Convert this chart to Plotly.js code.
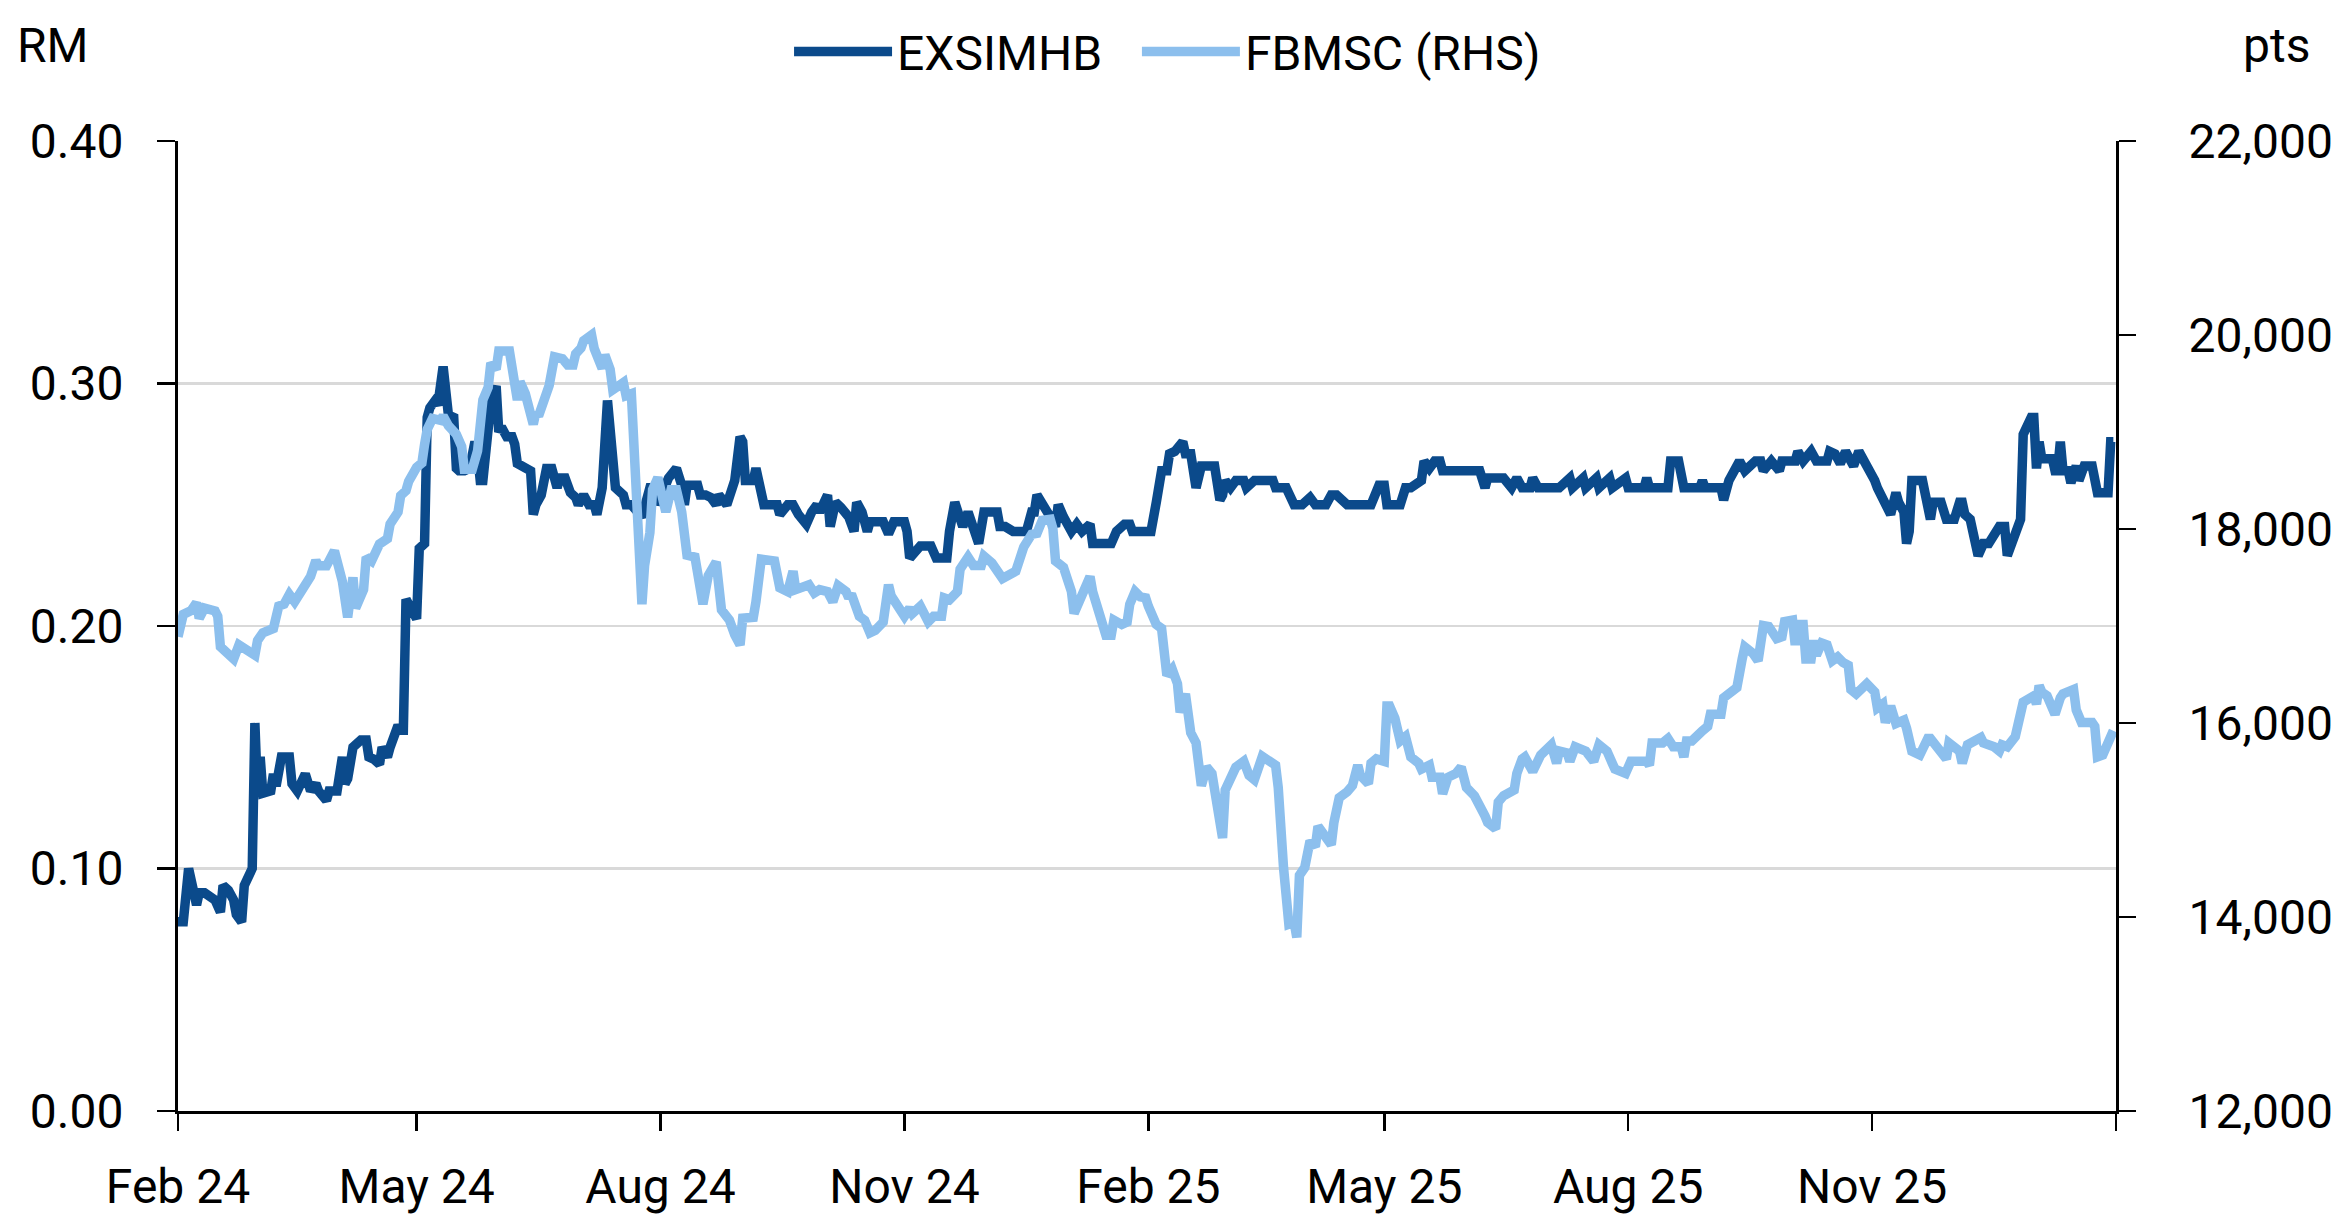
<!DOCTYPE html>
<html>
<head>
<meta charset="utf-8">
<script src="https://cdn.plot.ly/plotly-3.0.1.min.js"></script>
<style>
  html, body { margin: 0; padding: 0; background: #ffffff; }
  #chart { width: 2350px; height: 1218px; }
</style>
</head>
<body>
<div id="chart"></div>
<script>
// ---------------- DATA ----------------
const seriesNames = ["EXSIMHB", "FBMSC (RHS)"];
const leftAxisTitle = "RM";
const rightAxisTitle = "pts";

const tickDates = ["2024-02-01","2024-05-01","2024-08-01","2024-11-01","2025-02-01","2025-05-01","2025-08-01","2025-11-01","2026-02-01"];
const tickLabels = ["Feb 24","May 24","Aug 24","Nov 24","Feb 25","May 25","Aug 25","Nov 25",""];

// EXSIMHB share price (RM), left axis
const exsimhbDates = [
"2024-02-01","2024-02-03","2024-02-05","2024-02-07","2024-02-08","2024-02-09","2024-02-11","2024-02-15","2024-02-17","2024-02-18",
"2024-02-20","2024-02-22","2024-02-23","2024-02-25","2024-02-26","2024-02-29","2024-03-01","2024-03-02","2024-03-03","2024-03-04",
"2024-03-07","2024-03-08","2024-03-09","2024-03-11","2024-03-14","2024-03-15","2024-03-17","2024-03-20","2024-03-22","2024-03-24",
"2024-03-25","2024-03-28","2024-03-29","2024-04-01","2024-04-03","2024-04-04","2024-04-05","2024-04-07","2024-04-10","2024-04-12",
"2024-04-13","2024-04-15","2024-04-17","2024-04-18","2024-04-20","2024-04-21","2024-04-24","2024-04-25","2024-04-26","2024-04-27",
"2024-04-29","2024-05-01","2024-05-02","2024-05-04","2024-05-05","2024-05-06","2024-05-08","2024-05-09","2024-05-11","2024-05-13",
"2024-05-15","2024-05-16","2024-05-17","2024-05-19","2024-05-21","2024-05-23","2024-05-24","2024-05-25","2024-05-26","2024-05-27",
"2024-05-29","2024-05-31","2024-06-01","2024-06-02","2024-06-04","2024-06-06","2024-06-07","2024-06-08","2024-06-10","2024-06-13",
"2024-06-14","2024-06-15","2024-06-17","2024-06-19","2024-06-21","2024-06-23","2024-06-24","2024-06-26","2024-06-28","2024-06-30",
"2024-07-01","2024-07-03","2024-07-05","2024-07-07","2024-07-08","2024-07-10","2024-07-12","2024-07-13","2024-07-14","2024-07-15",
"2024-07-18","2024-07-19","2024-07-21","2024-07-25","2024-07-28","2024-07-30","2024-07-31","2024-08-03","2024-08-04","2024-08-07",
"2024-08-09","2024-08-10","2024-08-11","2024-08-15","2024-08-16","2024-08-18","2024-08-20","2024-08-22","2024-08-23","2024-08-26",
"2024-08-29","2024-08-31","2024-09-01","2024-09-02","2024-09-05","2024-09-06","2024-09-07","2024-09-09","2024-09-14","2024-09-15",
"2024-09-18","2024-09-20","2024-09-22","2024-09-23","2024-09-25","2024-09-27","2024-09-29","2024-09-30","2024-10-03","2024-10-04",
"2024-10-06","2024-10-08","2024-10-11","2024-10-13","2024-10-14","2024-10-16","2024-10-18","2024-10-19","2024-10-24","2024-10-26",
"2024-10-28","2024-11-01","2024-11-02","2024-11-03","2024-11-07","2024-11-11","2024-11-13","2024-11-17","2024-11-18","2024-11-20",
"2024-11-23","2024-11-25","2024-11-27","2024-11-29","2024-12-01","2024-12-06","2024-12-07","2024-12-09","2024-12-12","2024-12-17",
"2024-12-19","2024-12-20","2024-12-21","2024-12-23","2024-12-26","2024-12-28","2024-12-29","2024-12-31","2025-01-03","2025-01-05",
"2025-01-07","2025-01-10","2025-01-11","2025-01-18","2025-01-20","2025-01-23","2025-01-25","2025-01-26","2025-02-02","2025-02-04",
"2025-02-06","2025-02-08","2025-02-09","2025-02-11","2025-02-13","2025-02-14","2025-02-15","2025-02-17","2025-02-19","2025-02-21",
"2025-02-26","2025-02-28","2025-03-01","2025-03-02","2025-03-04","2025-03-06","2025-03-09","2025-03-10","2025-03-13","2025-03-20",
"2025-03-21","2025-03-25","2025-03-28","2025-03-31","2025-04-03","2025-04-05","2025-04-09","2025-04-11","2025-04-13","2025-04-17",
"2025-04-26","2025-04-29","2025-05-01","2025-05-02","2025-05-07","2025-05-09","2025-05-11","2025-05-15","2025-05-16","2025-05-18",
"2025-05-20","2025-05-22","2025-05-23","2025-06-05","2025-06-06","2025-06-08","2025-06-09","2025-06-15","2025-06-18","2025-06-20",
"2025-06-22","2025-06-25","2025-06-26","2025-06-28","2025-07-06","2025-07-10","2025-07-11","2025-07-15","2025-07-16","2025-07-20",
"2025-07-21","2025-07-25","2025-07-26","2025-07-31","2025-08-01","2025-08-07","2025-08-08","2025-08-09","2025-08-16","2025-08-17",
"2025-08-20","2025-08-22","2025-08-28","2025-08-29","2025-08-30","2025-09-05","2025-09-06","2025-09-08","2025-09-10","2025-09-12",
"2025-09-14","2025-09-16","2025-09-18","2025-09-20","2025-09-21","2025-09-24","2025-09-27","2025-09-28","2025-10-03","2025-10-04",
"2025-10-06","2025-10-09","2025-10-11","2025-10-15","2025-10-16","2025-10-18","2025-10-20","2025-10-22","2025-10-25","2025-10-27",
"2025-10-28","2025-10-30","2025-10-31","2025-11-02","2025-11-03","2025-11-04","2025-11-06","2025-11-08","2025-11-10","2025-11-11",
"2025-11-13","2025-11-14","2025-11-15","2025-11-16","2025-11-20","2025-11-22","2025-11-23","2025-11-24","2025-11-27","2025-11-29",
"2025-12-02","2025-12-04","2025-12-05","2025-12-06","2025-12-08","2025-12-09","2025-12-11","2025-12-13","2025-12-15","2025-12-19",
"2025-12-21","2025-12-22","2025-12-25","2025-12-27","2025-12-28","2025-12-29","2025-12-31","2026-01-01","2026-01-02","2026-01-03",
"2026-01-04","2026-01-08","2026-01-09","2026-01-10","2026-01-11","2026-01-12","2026-01-14","2026-01-15","2026-01-17","2026-01-18",
"2026-01-20","2026-01-23","2026-01-25","2026-01-29","2026-01-30","2026-01-31"
];
const exsimhbValues = [
0.078,0.078,0.100,0.087,0.085,0.090,0.090,0.087,0.082,0.093,
0.091,0.087,0.081,0.078,0.093,0.100,0.160,0.131,0.146,0.131,
0.132,0.139,0.134,0.146,0.146,0.135,0.132,0.139,0.132,0.135,
0.132,0.128,0.132,0.132,0.146,0.135,0.137,0.150,0.153,0.153,
0.146,0.145,0.143,0.150,0.146,0.150,0.159,0.157,0.157,0.211,
0.207,0.203,0.232,0.234,0.286,0.290,0.293,0.291,0.307,0.287,
0.286,0.265,0.264,0.264,0.265,0.276,0.271,0.260,0.260,0.271,
0.292,0.299,0.280,0.282,0.278,0.278,0.275,0.267,0.266,0.264,
0.246,0.250,0.254,0.265,0.265,0.257,0.261,0.261,0.255,0.253,
0.250,0.254,0.250,0.250,0.246,0.257,0.293,0.276,0.272,0.257,
0.254,0.250,0.250,0.245,0.257,0.257,0.250,0.259,0.261,0.265,
0.258,0.250,0.258,0.258,0.254,0.254,0.253,0.250,0.254,0.250,
0.260,0.278,0.276,0.260,0.260,0.265,0.258,0.250,0.250,0.246,
0.250,0.250,0.246,0.245,0.242,0.247,0.250,0.247,0.254,0.241,
0.251,0.249,0.245,0.239,0.251,0.247,0.239,0.243,0.243,0.238,
0.243,0.243,0.239,0.228,0.233,0.233,0.228,0.228,0.239,0.251,
0.241,0.247,0.239,0.234,0.247,0.247,0.241,0.241,0.239,0.239,
0.247,0.247,0.254,0.251,0.245,0.241,0.250,0.245,0.239,0.242,
0.239,0.242,0.234,0.234,0.239,0.242,0.242,0.239,0.239,0.251,
0.264,0.264,0.271,0.272,0.276,0.276,0.271,0.271,0.257,0.266,
0.266,0.252,0.254,0.260,0.257,0.260,0.260,0.257,0.260,0.260,
0.257,0.257,0.250,0.250,0.253,0.250,0.250,0.254,0.254,0.250,
0.250,0.258,0.258,0.250,0.250,0.257,0.257,0.260,0.268,0.265,
0.268,0.268,0.264,0.264,0.264,0.257,0.261,0.261,0.257,0.261,
0.257,0.257,0.261,0.257,0.257,0.261,0.257,0.261,0.257,0.261,
0.257,0.261,0.257,0.261,0.257,0.257,0.261,0.257,0.257,0.268,
0.268,0.257,0.257,0.260,0.257,0.257,0.252,0.260,0.264,0.268,
0.264,0.266,0.268,0.268,0.264,0.268,0.264,0.268,0.268,0.272,
0.268,0.272,0.268,0.268,0.272,0.271,0.267,0.272,0.266,0.272,
0.270,0.266,0.266,0.260,0.257,0.255,0.250,0.246,0.255,0.251,
0.247,0.234,0.239,0.260,0.260,0.251,0.244,0.251,0.251,0.244,
0.244,0.251,0.251,0.246,0.244,0.239,0.229,0.234,0.234,0.241,
0.241,0.229,0.239,0.244,0.279,0.282,0.286,0.286,0.265,0.276,
0.269,0.269,0.264,0.264,0.276,0.264,0.264,0.259,0.266,0.260,
0.266,0.266,0.255,0.255,0.276,0.276
];

// FBMSC index level (pts), right axis
const fbmscDates = [
"2024-02-01","2024-02-03","2024-02-06","2024-02-08","2024-02-09","2024-02-11","2024-02-15","2024-02-16","2024-02-17","2024-02-20",
"2024-02-22","2024-02-24","2024-02-27","2024-03-01","2024-03-02","2024-03-04","2024-03-08","2024-03-10","2024-03-12","2024-03-14",
"2024-03-16","2024-03-21","2024-03-22","2024-03-24","2024-03-25","2024-03-28","2024-03-29","2024-03-31","2024-04-03","2024-04-05",
"2024-04-07","2024-04-08","2024-04-11","2024-04-12","2024-04-14","2024-04-17","2024-04-20","2024-04-21","2024-04-24","2024-04-25",
"2024-04-27","2024-04-28","2024-05-01","2024-05-03","2024-05-04","2024-05-05","2024-05-07","2024-05-10","2024-05-11","2024-05-13",
"2024-05-16","2024-05-18","2024-05-19","2024-05-22","2024-05-24","2024-05-25","2024-05-26","2024-05-28","2024-05-29","2024-05-31",
"2024-06-01","2024-06-05","2024-06-07","2024-06-08","2024-06-09","2024-06-11","2024-06-14","2024-06-15","2024-06-16","2024-06-18",
"2024-06-20","2024-06-22","2024-06-25","2024-06-27","2024-06-29","2024-06-30","2024-07-02","2024-07-03","2024-07-05","2024-07-06",
"2024-07-07","2024-07-10","2024-07-11","2024-07-13","2024-07-14","2024-07-16","2024-07-18","2024-07-19","2024-07-21","2024-07-25",
"2024-07-26","2024-07-28","2024-07-29","2024-07-31","2024-08-03","2024-08-05","2024-08-07","2024-08-09","2024-08-11","2024-08-14",
"2024-08-15","2024-08-17","2024-08-19","2024-08-22","2024-08-24","2024-08-27","2024-08-29","2024-08-31","2024-09-01","2024-09-05",
"2024-09-06","2024-09-08","2024-09-13","2024-09-14","2024-09-15","2024-09-18","2024-09-20","2024-09-21","2024-09-26","2024-09-28",
"2024-09-30","2024-10-03","2024-10-05","2024-10-07","2024-10-10","2024-10-11","2024-10-12","2024-10-15","2024-10-17","2024-10-19",
"2024-10-21","2024-10-24","2024-10-26","2024-10-27","2024-10-29","2024-10-30","2024-11-01","2024-11-03","2024-11-04","2024-11-07",
"2024-11-10","2024-11-12","2024-11-15","2024-11-16","2024-11-18","2024-11-21","2024-11-22","2024-11-25","2024-11-27","2024-11-30",
"2024-12-01","2024-12-04","2024-12-06","2024-12-08","2024-12-13","2024-12-16","2024-12-19","2024-12-21","2024-12-23","2024-12-26",
"2024-12-27","2024-12-28","2024-12-31","2025-01-02","2025-01-03","2025-01-04","2025-01-06","2025-01-08","2025-01-10","2025-01-11",
"2025-01-14","2025-01-16","2025-01-18","2025-01-19","2025-01-22","2025-01-24","2025-01-25","2025-01-27","2025-01-29","2025-01-31",
"2025-02-01","2025-02-03","2025-02-04","2025-02-06","2025-02-08","2025-02-10","2025-02-12","2025-02-13","2025-02-15","2025-02-17",
"2025-02-19","2025-02-21","2025-02-23","2025-02-25","2025-02-27","2025-03-01","2025-03-02","2025-03-06","2025-03-09","2025-03-11",
"2025-03-13","2025-03-16","2025-03-21","2025-03-22","2025-03-24","2025-03-26","2025-03-28","2025-03-29","2025-03-30","2025-04-01",
"2025-04-03","2025-04-05","2025-04-06","2025-04-09","2025-04-11","2025-04-12","2025-04-14","2025-04-17","2025-04-19","2025-04-21",
"2025-04-22","2025-04-25","2025-04-26","2025-04-28","2025-05-01","2025-05-02","2025-05-03","2025-05-05","2025-05-07","2025-05-09",
"2025-05-11","2025-05-14","2025-05-15","2025-05-18","2025-05-19","2025-05-22","2025-05-23","2025-05-25","2025-05-28","2025-05-30",
"2025-06-01","2025-06-04","2025-06-06","2025-06-08","2025-06-09","2025-06-12","2025-06-13","2025-06-15","2025-06-19","2025-06-20",
"2025-06-22","2025-06-23","2025-06-26","2025-06-29","2025-07-03","2025-07-05","2025-07-06","2025-07-09","2025-07-10","2025-07-12",
"2025-07-16","2025-07-19","2025-07-21","2025-07-24","2025-07-26","2025-07-27","2025-07-31","2025-08-02","2025-08-08","2025-08-09",
"2025-08-10","2025-08-14","2025-08-16","2025-08-18","2025-08-21","2025-08-22","2025-08-23","2025-08-25","2025-08-29","2025-08-31",
"2025-09-01","2025-09-05","2025-09-06","2025-09-08","2025-09-11","2025-09-13","2025-09-14","2025-09-17","2025-09-19","2025-09-20",
"2025-09-21","2025-09-23","2025-09-26","2025-09-28","2025-09-29","2025-10-02","2025-10-03","2025-10-04","2025-10-06","2025-10-07",
"2025-10-09","2025-10-10","2025-10-11","2025-10-13","2025-10-15","2025-10-17","2025-10-19","2025-10-21","2025-10-23","2025-10-24",
"2025-10-26","2025-10-30","2025-10-31","2025-11-02","2025-11-03","2025-11-05","2025-11-06","2025-11-08","2025-11-10","2025-11-13",
"2025-11-14","2025-11-16","2025-11-19","2025-11-22","2025-11-23","2025-11-26","2025-11-29","2025-11-30","2025-12-04","2025-12-05",
"2025-12-07","2025-12-12","2025-12-13","2025-12-17","2025-12-19","2025-12-20","2025-12-22","2025-12-25","2025-12-26","2025-12-28",
"2026-01-01","2026-01-02","2026-01-03","2026-01-04","2026-01-06","2026-01-07","2026-01-09","2026-01-11","2026-01-12","2026-01-16",
"2026-01-17","2026-01-19","2026-01-23","2026-01-24","2026-01-25","2026-01-27","2026-01-31"
];
const fbmscValues = [
16890,17120,17160,17240,17080,17185,17155,17100,16785,16720,
16660,16805,16750,16700,16850,16930,16975,17205,17225,17325,
17250,17460,17510,17675,17620,17620,17660,17775,17460,17090,
17500,17185,17375,17710,17670,17845,17900,18050,18175,18345,
18395,18490,18635,18680,18870,19025,19140,19120,19165,19065,
18975,18850,18615,18615,18805,19120,19330,19460,19710,19645,
19835,19835,19480,19330,19520,19395,19080,19205,19165,19330,
19480,19775,19755,19690,19690,19805,19865,19940,20000,20000,
19860,19655,19795,19645,19435,19460,19510,19375,19395,17225,
17625,17965,18405,18530,18175,18405,18405,18175,17730,17710,
17520,17225,17520,17660,17165,17060,16910,16805,17080,17090,
17250,17690,17670,17520,17395,17355,17565,17375,17425,17340,
17375,17355,17250,17415,17355,17290,17330,17100,17060,16930,
16955,17040,17425,17310,17225,17185,17100,17185,17130,17205,
17045,17100,17100,17290,17270,17355,17585,17710,17625,17625,
17720,17650,17565,17490,17565,17815,17945,17955,18090,18100,
18005,17670,17605,17440,17355,17130,17250,17375,17510,17355,
17040,16905,16905,17060,17015,17040,17225,17355,17300,17290,
17205,17080,17015,16975,16490,16555,16405,16110,16300,15900,
15795,15355,15545,15480,15205,14815,15310,15545,15605,15460,
15415,15655,15565,15335,14510,13925,13945,13790,14430,14510,
14785,14725,14935,14815,14745,14975,15230,15290,15355,15565,
15460,15375,15585,15630,15605,16175,16175,16050,15815,15860,
15650,15585,15525,15565,15440,15440,15270,15440,15480,15545,
15335,15250,15165,15040,14975,14910,15185,15250,15310,15480,
15630,15650,15500,15670,15775,15585,15710,15690,15605,15755,
15710,15605,15775,15710,15585,15525,15480,15605,15605,15565,
15795,15795,15840,15755,15755,15650,15815,15815,15920,15965,
16090,16090,16260,16300,16365,16660,16785,16720,16640,16825,
17005,16995,16870,16890,17045,17060,16805,17015,17015,16660,
16660,16850,16700,16825,16805,16640,16680,16625,16595,16345,
16300,16405,16365,16320,16155,16195,16005,16175,15995,16030,
15945,15710,15670,15840,15840,15735,15630,15795,15710,15585,
15775,15850,15795,15755,15710,15775,15755,15860,16005,16215,
16280,16195,16385,16320,16280,16215,16090,16260,16300,16345,
16135,16005,16005,15965,15650,15670,15920
];

// ---------------- STYLE ----------------
const FONT = "Roboto, 'Liberation Sans', Arial, sans-serif";
const FS = 48;
const darkBlue = "#0b4a8b";
const lightBlue = "#8cbfed";

const traces = [
  {
    x: exsimhbDates, y: exsimhbValues, name: seriesNames[0],
    type: "scatter", mode: "lines", yaxis: "y", legend: "legend",
    line: { color: darkBlue, width: 9.5, shape: "linear" }
  },
  {
    x: fbmscDates, y: fbmscValues, name: seriesNames[1],
    type: "scatter", mode: "lines", yaxis: "y2", legend: "legend2",
    line: { color: lightBlue, width: 9.5, shape: "linear" }
  }
];

const legendBase = {
  orientation: "h", xanchor: "left", y: 1.092, yanchor: "middle",
  font: { family: FONT, size: FS, color: "#000000" },
  bgcolor: "rgba(0,0,0,0)", itemwidth: 98
};

const layout = {
  width: 2350, height: 1218,
  paper_bgcolor: "#ffffff", plot_bgcolor: "#ffffff",
  margin: { l: 178, r: 234, t: 141, b: 107, pad: 0 },
  font: { family: FONT, size: FS, color: "#000000" },
  showlegend: true,
  legend: Object.assign({}, legendBase, { x: 0.3153 }),
  legend2: Object.assign({}, legendBase, { x: 0.4948 }),
  xaxis: {
    type: "date", range: ["2024-02-01", "2026-02-01"],
    tickmode: "array", tickvals: tickDates, ticktext: tickLabels,
    ticks: "outside", ticklen: 17, tickwidth: 2.5, tickcolor: "#000000",
    showline: true, linecolor: "#000000", linewidth: 3, mirror: false,
    showgrid: false, zeroline: false, ticklabelstandoff: 14,
    tickfont: { family: FONT, size: FS, color: "#000000" }
  },
  yaxis: {
    range: [0, 0.4], tickmode: "array", tickvals: [0, 0.1, 0.2, 0.3, 0.4],
    tickformat: ".2f",
    ticks: "outside", ticklen: 18, tickwidth: 2.5, tickcolor: "#000000",
    showline: true, linecolor: "#000000", linewidth: 3,
    showgrid: true, gridcolor: "#d9d9d9", gridwidth: 2.5, zeroline: false,
    ticklabelstandoff: 24,
    tickfont: { family: FONT, size: FS, color: "#000000" }
  },
  yaxis2: {
    overlaying: "y", side: "right", anchor: "x",
    range: [12000, 22000], tickmode: "array", tickvals: [12000, 14000, 16000, 18000, 20000, 22000],
    tickformat: ",d",
    ticks: "outside", ticklen: 17, tickwidth: 2.5, tickcolor: "#000000",
    showline: true, linecolor: "#000000", linewidth: 3,
    showgrid: false, zeroline: false, ticklabelstandoff: 43,
    tickfont: { family: FONT, size: FS, color: "#000000" }
  },
  annotations: [
    { text: leftAxisTitle, xref: "paper", yref: "paper", x: -0.0841, xanchor: "left",
      y: 1.098, yanchor: "middle", showarrow: false, font: { family: FONT, size: FS, color: "#000000" } },
    { text: rightAxisTitle, xref: "paper", yref: "paper", x: 1.0645, xanchor: "left",
      y: 1.098, yanchor: "middle", showarrow: false, font: { family: FONT, size: FS, color: "#000000" } }
  ]
};

Plotly.newPlot("chart", traces, layout, { staticPlot: true, displayModeBar: false });
</script>
</body>
</html>
